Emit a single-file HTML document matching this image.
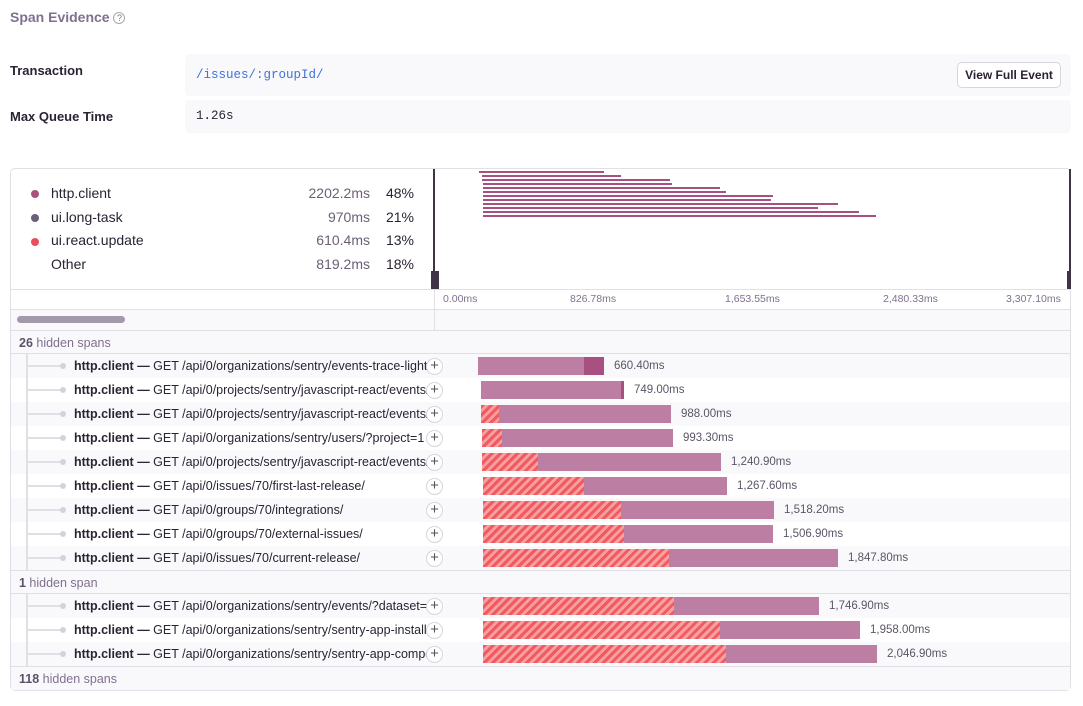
<!DOCTYPE html>
<html><head><meta charset="utf-8"><style>
*{box-sizing:border-box;margin:0;padding:0}
body{width:1083px;height:706px;background:#fff;font-family:"Liberation Sans",sans-serif;color:#2b2233;position:relative;overflow:hidden}
.a{position:absolute}
.mono{font-family:"Liberation Mono",monospace}
.row{position:absolute;left:0;width:1070px;height:24px}
.g{background:linear-gradient(90deg,transparent 0 11px,#f9f9fb 11px)}
.lbl{position:absolute;left:74px;top:5px;font-size:12.5px;white-space:nowrap;width:353px;overflow:hidden}
.plus{position:absolute;left:426px;top:4px;width:17px;height:17px;border:1px solid #d8d4dd;border-radius:50%;background:#fff;font-size:15px;line-height:14px;text-align:center;color:#555}
.conn{position:absolute;left:28px;top:11px;width:34px;height:2px;background:#e2dee6}
.dot{position:absolute;left:60px;top:9px;width:6px;height:6px;border-radius:50%;background:#d6d2da}
.bar{position:absolute;top:3px;height:18px;background:#bd7ea3}
.hat{position:absolute;top:0;left:0;height:18px;background:repeating-linear-gradient(135deg,#f25a61 0 3px,#f7a0a0 3px 6px)}
.dur{position:absolute;top:6px;font-size:11.5px;color:#5c5466}
.hid{position:absolute;left:11px;width:1059px;height:24px;background:#f9f9fb;border-top:1px solid #e2dee6;border-bottom:1px solid #e2dee6;font-size:12.5px;color:#80708f;padding:5px 8px}
.hid b{color:#5c5466}
.mm{position:absolute;height:2px;background:#a8507f}
.tk{position:absolute;top:293px;font-size:10.5px;color:#80708f}
.vl{position:absolute;left:26px;width:2px;background:#e2dee6;z-index:2}
</style></head><body>
<div class="a" style="left:10px;top:9px;font-size:14px;font-weight:bold;color:#80708f">Span Evidence <span style="display:inline-block;width:12px;height:12px;border:1px solid #aaa;border-radius:50%;font-size:9px;text-align:center;line-height:10px;font-weight:normal;vertical-align:1px">?</span></div>
<div class="a" style="left:10px;top:63px;font-size:13px;font-weight:bold">Transaction</div>
<div class="a" style="left:185px;top:54px;width:886px;height:42px;background:#f9f9fb;border-radius:4px"></div>
<div class="a mono" style="left:196px;top:68px;font-size:12.5px;color:#3d74db">/issues/:groupId/</div>
<div class="a" style="left:957px;top:62px;width:104px;height:26px;border:1px solid #d8d4dd;border-radius:5px;background:#fff;font-size:12px;font-weight:bold;text-align:center;line-height:24px">View Full Event</div>
<div class="a" style="left:10px;top:109px;font-size:13px;font-weight:bold">Max Queue Time</div>
<div class="a" style="left:185px;top:100px;width:886px;height:33px;background:#f9f9fb;border-radius:4px"></div>
<div class="a mono" style="left:196px;top:109px;font-size:12.5px">1.26s</div>

<div class="a" style="left:10px;top:168px;width:1061px;height:523px;border:1px solid #e2dee6;border-radius:5px"></div>
<div class="a" style="left:31px;top:190px;width:8px;height:8px;border-radius:50%;background:#a8507f"></div>
<div class="a" style="left:31px;top:214px;width:8px;height:8px;border-radius:50%;background:#6c5f75"></div>
<div class="a" style="left:31px;top:238px;width:8px;height:8px;border-radius:50%;background:#e84f5c"></div>
<div class="a" style="left:51px;top:182px;font-size:14px;line-height:23.7px">http.client<br>ui.long-task<br>ui.react.update<br>Other</div>
<div class="a" style="left:270px;top:182px;width:100px;text-align:right;font-size:14px;line-height:23.7px;color:#6c5f75">2202.2ms<br>970ms<br>610.4ms<br>819.2ms</div>
<div class="a" style="left:380px;top:182px;width:34px;text-align:right;font-size:14px;line-height:23.7px">48%<br>21%<br>13%<br>18%</div>
<div class="a" style="left:433px;top:169px;width:2px;height:120px;background:#3e3446"></div>
<div class="a" style="left:431px;top:271px;width:8px;height:18px;background:#3e3446"></div>
<div class="a" style="left:1069px;top:169px;width:2px;height:120px;background:#3e3446"></div>
<div class="a" style="left:1067px;top:271px;width:4px;height:18px;background:#3e3446"></div>
<div class="mm" style="left:479px;width:125px;top:171px"></div>
<div class="mm" style="left:482px;width:139px;top:175px"></div>
<div class="mm" style="left:482px;width:188px;top:179px"></div>
<div class="mm" style="left:483px;width:189px;top:183px"></div>
<div class="mm" style="left:483px;width:237px;top:187px"></div>
<div class="mm" style="left:483px;width:243px;top:191px"></div>
<div class="mm" style="left:483px;width:290px;top:195px"></div>
<div class="mm" style="left:483px;width:288px;top:199px"></div>
<div class="mm" style="left:483px;width:355px;top:203px"></div>
<div class="mm" style="left:483px;width:335px;top:207px"></div>
<div class="mm" style="left:483px;width:376px;top:211px"></div>
<div class="mm" style="left:483px;width:393px;top:215px"></div>
<div class="a" style="left:11px;top:289px;width:1059px;height:1px;background:#e2dee6"></div>
<div class="a" style="left:434px;top:289px;width:1px;height:41px;background:#e2dee6"></div>
<div class="tk" style="left:443px">0.00ms</div>
<div class="tk" style="left:570px">826.78ms</div>
<div class="tk" style="left:725px">1,653.55ms</div>
<div class="tk" style="left:883px">2,480.33ms</div>
<div class="tk" style="left:1006px">3,307.10ms</div>
<div class="a" style="left:11px;top:309px;width:1059px;height:21px;background:#f9f9fb;border-top:1px solid #e2dee6"></div>
<div class="a" style="left:434px;top:309px;width:1px;height:21px;background:#e2dee6"></div>
<div class="a" style="left:17px;top:316px;width:108px;height:7px;border-radius:4px;background:#a39aa9"></div>

<div class="hid" style="top:330px"><b>26</b> hidden spans</div>
<div class="hid" style="top:570px"><b>1</b> hidden span</div>
<div class="hid" style="top:666px;border-bottom:none"><b>118</b> hidden spans</div>

<div class="row g" style="top:354px"><div class="conn"></div><div class="dot"></div><div class="lbl"><b>http.client —</b> GET /api/0/organizations/sentry/events-trace-light</div><div class="plus">+</div><div class="bar" style="left:478px;width:126px"><div style="position:absolute;right:0;width:20px;height:18px;background:#a8507f"></div></div><div class="dur" style="left:614px">660.40ms</div></div>
<div class="row" style="top:378px"><div class="conn"></div><div class="dot"></div><div class="lbl"><b>http.client —</b> GET /api/0/projects/sentry/javascript-react/events/</div><div class="plus">+</div><div class="bar" style="left:481px;width:143px"><div style="position:absolute;right:0;width:3px;height:18px;background:#a8507f"></div></div><div class="dur" style="left:634px">749.00ms</div></div>
<div class="row g" style="top:402px"><div class="conn"></div><div class="dot"></div><div class="lbl"><b>http.client —</b> GET /api/0/projects/sentry/javascript-react/events/</div><div class="plus">+</div><div class="bar" style="left:481px;width:190px"><div class="hat" style="width:18px"></div></div><div class="dur" style="left:681px">988.00ms</div></div>
<div class="row" style="top:426px"><div class="conn"></div><div class="dot"></div><div class="lbl"><b>http.client —</b> GET /api/0/organizations/sentry/users/?project=1</div><div class="plus">+</div><div class="bar" style="left:482px;width:191px"><div class="hat" style="width:20px"></div></div><div class="dur" style="left:683px">993.30ms</div></div>
<div class="row g" style="top:450px"><div class="conn"></div><div class="dot"></div><div class="lbl"><b>http.client —</b> GET /api/0/projects/sentry/javascript-react/events/</div><div class="plus">+</div><div class="bar" style="left:482px;width:239px"><div class="hat" style="width:56px"></div></div><div class="dur" style="left:731px">1,240.90ms</div></div>
<div class="row" style="top:474px"><div class="conn"></div><div class="dot"></div><div class="lbl"><b>http.client —</b> GET /api/0/issues/70/first-last-release/</div><div class="plus">+</div><div class="bar" style="left:483px;width:244px"><div class="hat" style="width:101px"></div></div><div class="dur" style="left:737px">1,267.60ms</div></div>
<div class="row g" style="top:498px"><div class="conn"></div><div class="dot"></div><div class="lbl"><b>http.client —</b> GET /api/0/groups/70/integrations/</div><div class="plus">+</div><div class="bar" style="left:483px;width:291px"><div class="hat" style="width:138px"></div></div><div class="dur" style="left:784px">1,518.20ms</div></div>
<div class="row" style="top:522px"><div class="conn"></div><div class="dot"></div><div class="lbl"><b>http.client —</b> GET /api/0/groups/70/external-issues/</div><div class="plus">+</div><div class="bar" style="left:483px;width:290px"><div class="hat" style="width:141px"></div></div><div class="dur" style="left:783px">1,506.90ms</div></div>
<div class="row g" style="top:546px"><div class="conn"></div><div class="dot"></div><div class="lbl"><b>http.client —</b> GET /api/0/issues/70/current-release/</div><div class="plus">+</div><div class="bar" style="left:483px;width:355px"><div class="hat" style="width:186px"></div></div><div class="dur" style="left:848px">1,847.80ms</div></div>

<div class="row g" style="top:594px"><div class="conn"></div><div class="dot"></div><div class="lbl"><b>http.client —</b> GET /api/0/organizations/sentry/events/?dataset=</div><div class="plus">+</div><div class="bar" style="left:483px;width:336px"><div class="hat" style="width:191px"></div></div><div class="dur" style="left:829px">1,746.90ms</div></div>
<div class="row" style="top:618px"><div class="conn"></div><div class="dot"></div><div class="lbl"><b>http.client —</b> GET /api/0/organizations/sentry/sentry-app-installations/</div><div class="plus">+</div><div class="bar" style="left:483px;width:377px"><div class="hat" style="width:237px"></div></div><div class="dur" style="left:870px">1,958.00ms</div></div>
<div class="row g" style="top:642px"><div class="conn"></div><div class="dot"></div><div class="lbl"><b>http.client —</b> GET /api/0/organizations/sentry/sentry-app-components/</div><div class="plus">+</div><div class="bar" style="left:483px;width:394px"><div class="hat" style="width:243px"></div></div><div class="dur" style="left:887px">2,046.90ms</div></div>

<div class="vl" style="top:354px;height:216px"></div>
<div class="vl" style="top:594px;height:72px"></div>
</body></html>
